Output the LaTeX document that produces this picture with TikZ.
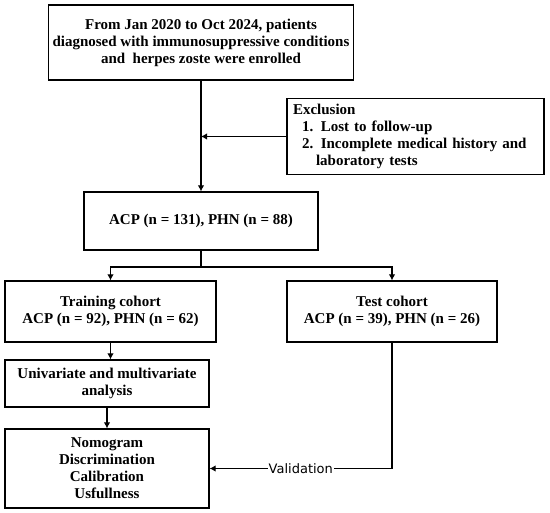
\documentclass[tikz,border=0pt]{standalone}
\usepackage{fontspec}
\setmainfont{Liberation Serif}
\newfontfamily\labelfont{DejaVu Sans}
\usetikzlibrary{positioning, arrows.meta}

\begin{document}
\begin{tikzpicture}[
    x=1pt, y=-1pt,
    box/.style={rectangle, draw, line width=1.2pt, align=center, inner sep=3pt,
        font=\bfseries\fontsize{15}{17}\selectfont},
    arrow/.style={-{Latex[length=6pt, width=6.5pt]}, line width=1.1pt},
    line/.style={line width=1.1pt},
    vlabel/.style={fill=white, inner sep=1pt, font=\labelfont\fontsize{13}{13}\selectfont}
]
\useasboundingbox (0,0) rectangle (550,513);

% Enrollment and exclusion
\node[box, minimum width=305pt, minimum height=75pt] (enrol) at (201, 42.5) {From Jan 2020 to Oct 2024, patients\\diagnosed with immunosuppressive conditions\\and\ \ herpes zoste were enrolled};
\node[box, align=left, text width=245pt, inner sep=6pt, minimum height=75pt] (excl) at (415.5, 136.5) {Exclusion\\\hspace*{9pt}1. Lost to follow-up\\\hspace*{9pt}2. Incomplete medical history and\\\hspace*{23pt}laboratory tests};
\node[box, minimum width=234pt, minimum height=58pt] (total) at (201, 221) {ACP (n = 131), PHN (n = 88)};
\coordinate (join) at (enrol.south |- excl.west);
\draw[arrow] (enrol) -- (total);
\draw[arrow] (excl) -- (join);

% Split into cohorts
\node[box, minimum width=211pt, minimum height=61pt] (train) at (110.5, 311.5) {Training cohort\\ACP (n = 92), PHN (n = 62)};
\node[box, minimum width=210pt, minimum height=61pt] (test) at (392, 311.5) {Test cohort\\ACP (n = 39), PHN (n = 26)};
\coordinate (split) at (201, 267);
\draw[line] (total) -- (split);
\draw[arrow] (split) -| (train);
\draw[arrow] (split) -| (test);

% Model building
\node[box, minimum width=204pt, minimum height=47pt] (uni) at (107, 383.5) {Univariate and multivariate\\analysis};
\node[box, minimum width=204pt, minimum height=79pt] (nomo) at (107, 468.5) {Nomogram\\Discrimination\\Calibration\\Usfullness};
\draw[arrow] (train.south) -- (train.south |- uni.north);
\draw[arrow] (uni) -- (nomo);
\draw[arrow] (test) |- node[pos=0.75, vlabel] {Validation} (nomo);

\end{tikzpicture}
\end{document}
